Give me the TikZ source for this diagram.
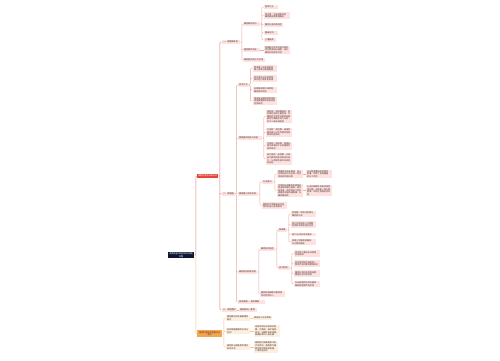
\documentclass[tikz,border=0pt]{standalone}
\usepackage{fontspec}
\newfontfamily\cjk{Noto Sans CJK SC}
\usepackage{xcolor}
\definecolor{navy}{HTML}{0F1735}
\definecolor{rdfill}{HTML}{E34234}
\definecolor{rdline}{HTML}{E0776D}
\definecolor{pkfill}{HTML}{FDE2E0}
\definecolor{pkline}{HTML}{EBA9A3}
\definecolor{orfill}{HTML}{F5A54F}
\definecolor{ogfill}{HTML}{FDEFDF}
\definecolor{ogline}{HTML}{F6C592}
\definecolor{txt}{HTML}{4A3030}

\begin{document}
\begin{tikzpicture}[x=1pt, y=-1pt,
    nd/.style={anchor=west, inner xsep=1pt, inner ysep=0.8pt, align=left,
      font=\cjk\fontsize{2.1pt}{2.6pt}\selectfont, text=txt},
    pk/.style={nd, fill=pkfill, text width=#1}, pk/.default=22pt,
    og/.style={nd, fill=ogfill, text width=#1}, og/.default=22pt,
    rl/.style={draw=pkline, line width=0.45pt, rounded corners=1pt},
    ol/.style={draw=ogline, line width=0.45pt, rounded corners=1pt}]
  \useasboundingbox[fill=white] (0,0) rectangle (500,360);

  % Radice
  \node[nd, fill=navy, text=white, align=center, text width=24pt] (R) at (168,255) {细胞的基本结构知识梳理\\导图};

  % Rami principali
  \node[nd, fill=rdfill, text=white, align=center, text width=19pt] (RD) at (197,176) {细胞的基本结构总览};
  \node[nd, fill=orfill, align=center, text width=23pt] (OR) at (197,333.5) {细胞的基本结构重点与\\难点};
  \draw[rl, draw=rdline] (R.east) -- ++(1.5pt,0) |- (RD.west);
  \draw[ol] (R.east) -- ++(1.5pt,0) |- (OR.west);

  % Ramo rosso
  \node[pk=16pt] (A) at (222,42) {一、细胞膜系统};
  \node[pk=10.5pt] (B) at (222,194) {二、细胞器};
  \node[pk=13pt] (C) at (222,310) {三、细胞整体};
  \draw[rl, draw=rdline] (RD.east) -- ++(1.5pt,0) |- (A.west)
    (RD.east) -- ++(1.5pt,0) |- (B.west)
    (RD.east) -- ++(1.5pt,0) |- (C.west);

  % Primo gruppo
  \node[pk=15pt] (A1) at (243,24) {细胞膜的成分};
  \node[pk=15pt] (A2) at (243,50) {细胞膜的功能};
  \node[pk=20pt] (A3) at (243,60) {细胞壁的成分与作用};
  \draw[rl] (A.east) -- ++(1.5pt,0) |- (A1.west)
    (A.east) -- ++(1.5pt,0) |- (A2.west)
    (A.east) -- ++(1.5pt,0) |- (A3.west);
  \node[pk=12pt] (A1a) at (264,7) {脂质为主};
  \node[pk=24pt] (A1b) at (264,15.5) {蛋白质：功能越复杂的\\细胞膜种类数量越多};
  \node[pk=17pt] (A1c) at (264,25) {糖类与蛋白质结合};
  \node[pk=12pt] (A1d) at (264,33) {糖被识别};
  \node[pk=10pt] (A1e) at (264,40) {少量糖类};
  \draw[rl] (A1.east) -- ++(1.5pt,0) |- (A1a.west)
    (A1.east) -- ++(1.5pt,0) |- (A1b.west)
    (A1.east) -- ++(1.5pt,0) |- (A1c.west)
    (A1.east) -- ++(1.5pt,0) |- (A1d.west)
    (A1.east) -- ++(1.5pt,0) |- (A1e.west);
  \node[pk=24pt] (A2a) at (264,50) {将细胞与外界环境分隔开\\控制物质进出细胞，进行\\细胞间的信息交流};
  \draw[rl] (A2.east) -- (A2a.west);

  % Secondo gruppo
  \node[pk=8.4pt] (B1) at (238,85) {研究方法};
  \node[pk=22pt] (B2) at (238,138) {细胞器的结构与功能};
  \node[pk=18pt] (B3) at (238,194) {细胞器之间的协调};
  \node[pk=17pt] (B4) at (238,272) {细胞核结构和功能};
  \node[pk=25pt] (B5) at (238,302) {原核细胞 — 真核细胞};
  \draw[rl] (B.east) -- ++(1.5pt,0) |- (B1.west)
    (B.east) -- ++(1.5pt,0) |- (B2.west)
    (B.east) -- ++(1.5pt,0) |- (B3.west)
    (B.east) -- ++(1.5pt,0) |- (B4.west)
    (B.east) -- ++(1.5pt,0) |- (B5.west);

  \node[pk] (B1a) at (253,68.5) {差速离心法逐渐提高\\离心速率分离细胞器};
  \node[pk] (B1b) at (253,78.5) {同位素标记法追踪物\\质的运行和变化规律};
  \node[pk] (B1c) at (253,90) {显微镜观察叶绿体和\\细胞质的流动};
  \node[pk] (B1d) at (253,101) {用高倍显微镜观察线粒\\体需要健那绿染液染色\\呈蓝绿色};
  \draw[rl] (B1.east) -- ++(1.5pt,0) |- (B1a.west)
    (B1.east) -- ++(1.5pt,0) |- (B1b.west)
    (B1.east) -- ++(1.5pt,0) |- (B1c.west)
    (B1.east) -- ++(1.5pt,0) |- (B1d.west);

  \node[pk=24pt] (B2a) at (266,116.5) {线粒体：双层膜结构，是\\有氧呼吸的主要场所，为\\细胞的生命活动提供能量\\被称为细胞的动力车间\\约95\%来自线粒体};
  \node[pk=24pt] (B2b) at (266,132.5) {叶绿体：双层膜，是绿色\\植物进行光合作用的场所\\养料制造车间};
  \node[pk=24pt] (B2c) at (266,146) {内质网：单层膜，是蛋白\\质合成和加工以及脂质合\\成的车间};
  \node[pk=24pt] (B2d) at (266,159) {高尔基体：单层膜，对来\\自内质网的蛋白质进行加\\工、分类和包装的车间及\\发送站};
  \draw[rl] (B2.east) -- ++(1.5pt,0) |- (B2a.west)
    (B2.east) -- ++(1.5pt,0) |- (B2b.west)
    (B2.east) -- ++(1.5pt,0) |- (B2c.west)
    (B2.east) -- ++(1.5pt,0) |- (B2d.west);

  \node[pk=9pt] (B3a) at (262,182) {分泌蛋白};
  \node[pk=23pt] (B3b) at (262,205.5) {细胞的生物膜系统在结\\构和功能上紧密联系};
  \draw[rl] (B3.east) -- ++(1.5pt,0) |- (B3a.west)
    (B3.east) -- ++(1.5pt,0) |- (B3b.west);
  \node[pk=24pt] (B3a1) at (277,174) {核糖体合成多肽链，进入\\内质网加工后形成一定空\\间结构的蛋白质};
  \node[pk=24pt] (B3a2) at (277,190.5) {内质网形成囊泡包裹蛋白\\质运输到高尔基体，高尔\\基体进一步修饰加工后形\\成囊泡运输到细胞膜，与\\细胞膜融合};
  \draw[rl] (B3a.east) -- ++(1.5pt,0) |- (B3a1.west)
    (B3a.east) -- ++(1.5pt,0) |- (B3a2.west);
  \node[pk=24pt] (B3a1c) at (306,174) {全过程需要线粒体提供\\能量，体现了各细胞器\\的分工合作};
  \node[pk=24pt] (B3a2c) at (306,190.5) {分泌到细胞外的蛋白质有\\消化酶、抗体和一部分激\\素等，体现生物膜的流动\\性};
  \draw[rl] (B3a1.east) -- (B3a1c.west);
  \draw[rl] (B3a2.east) -- (B3a2c.west);

  \node[pk=13pt] (B4a) at (260,249) {细胞核的结构};
  \node[pk=23pt] (B4b) at (260,294) {细胞核是细胞代谢和遗\\传的控制中心};
  \draw[rl] (B4.east) -- ++(1.5pt,0) |- (B4a.west)
    (B4.east) -- ++(1.5pt,0) |- (B4b.west);
  \node[pk=7pt] (B4a1) at (278,230) {核被膜};
  \node[pk=10pt] (B4a2) at (278,268) {核内物质};
  \draw[rl] (B4a.east) -- ++(1.5pt,0) |- (B4a1.west)
    (B4a.east) -- ++(1.5pt,0) |- (B4a2.west);
  \node[pk=23pt] (B4a1a) at (291,214) {双层膜，把核内物质与\\细胞质分开};
  \node[pk=23pt] (B4a1b) at (291,224.5) {核孔实现核质之间频繁\\的物质交换和信息交流};
  \node[pk=23pt] (B4a1c) at (291,234.5) {核仁与rRNA合成有关};
  \node[pk=23pt] (B4a1d) at (291,242) {核膜上附着有核糖体，\\与内质网相连};
  \draw[rl] (B4a1.east) -- ++(1.5pt,0) |- (B4a1a.west)
    (B4a1.east) -- ++(1.5pt,0) |- (B4a1b.west)
    (B4a1.east) -- ++(1.5pt,0) |- (B4a1c.west)
    (B4a1.east) -- ++(1.5pt,0) |- (B4a1d.west);
  \node[pk=24pt] (B4a2a) at (294,253.5) {染色质主要由DNA和蛋\\白质组成};
  \node[pk=24pt] (B4a2b) at (294,263.5) {染色质和染色体是同一\\物质不同时期的两种形态};
  \node[pk=24pt] (B4a2c) at (294,273.5) {细胞分裂时染色质高度\\螺旋化成为染色体};
  \node[pk=24pt] (B4a2d) at (294,284) {DNA是遗传信息的载体\\细胞核是遗传信息库};
  \draw[rl] (B4a2.east) -- ++(1.5pt,0) |- (B4a2a.west)
    (B4a2.east) -- ++(1.5pt,0) |- (B4a2b.west)
    (B4a2.east) -- ++(1.5pt,0) |- (B4a2c.west)
    (B4a2.east) -- ++(1.5pt,0) |- (B4a2d.west);

  % Terzo gruppo
  \node[pk=16pt] (Cc) at (239,310) {细胞是统一整体};
  \draw[rl] (C.east) -- (Cc.west);

  % Ramo arancione
  \node[og] (O1) at (226,318) {细胞膜的流动镶嵌模型\\要点};
  \node[og] (O2) at (226,331) {各种细胞器膜的比较与\\区别};
  \node[og] (O3) at (226,347) {细胞核与细胞质的相互\\依存关系};
  \draw[ol] (OR.east) -- ++(1.5pt,0) |- (O1.west)
    (OR.east) -- ++(1.5pt,0) |- (O2.west)
    (OR.east) -- ++(1.5pt,0) |- (O3.west);
  \node[og=17pt] (O1c) at (253,318) {磷脂双分子层骨架};
  \node[og=24pt] (O2c) at (254,331) {线粒体和叶绿体具双层\\膜，内质网、高尔基体、\\液泡、溶酶体具单层膜，\\核糖体和中心体无膜};
  \node[og=22pt] (O3c) at (254,347) {细胞核控制细胞质中的\\代谢活动，细胞质为细\\胞核提供物质和能量，\\二者相互依存};
  \draw[ol] (O1.east) -- (O1c.west);
  \draw[ol] (O2.east) -- (O2c.west);
  \draw[ol] (O3.east) -- (O3c.west);

\end{tikzpicture}
\end{document}
